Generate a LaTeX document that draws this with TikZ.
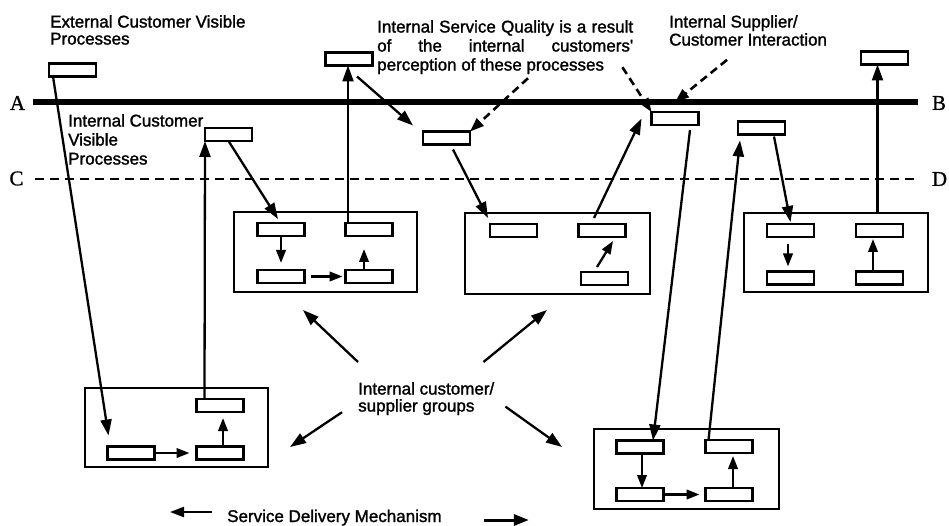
\documentclass[tikz,border=0pt]{standalone}
\usepackage{fontspec}
\setmainfont{Liberation Sans}
\newfontfamily\lblfont{Liberation Sans}[FakeBold=1.5]
\newfontfamily\abfont{Liberation Serif}[FakeBold=1]
\usetikzlibrary{arrows.meta}
\tikzset{
  sbox/.style={draw, fill=white, line width=2.3pt, minimum width=47pt, minimum height=13pt, inner sep=0pt, outer sep=0pt},
  gbox/.style={draw, line width=2.4pt, inner sep=0pt, outer sep=0pt},
  conn/.style={line width=2.3pt, -{Triangle[length=16pt,width=11pt]}},
  smallarr/.style={line width=2.3pt, -{Triangle[length=13pt,width=9.5pt]}},
  callout/.style={line width=2.6pt, dash pattern=on 8pt off 5pt, -{Triangle[length=14pt,width=10pt]}},
  lbl/.style={anchor=north west, inner sep=0pt, align=left},
  ablbl/.style={font=\abfont\fontsize{21}{21}\selectfont, inner sep=0pt}
}
\begin{document}
\begin{tikzpicture}[x=1pt,y=-1pt]
\useasboundingbox (0,0) rectangle (949,526);

% horizontal lines
\coordinate (a1) at (33,102); \coordinate (b1) at (918,102);
\coordinate (c1) at (35,179); \coordinate (d1) at (918,179);
\draw[line width=5.5pt] (a1) -- (b1);
\draw[line width=2.8pt, dash pattern=on 9pt off 6pt] (c1) -- (d1);
\node[ablbl] (lA) at (17.5,103) {A};
\node[ablbl] (lB) at (939,103) {B};
\node[ablbl] (lC) at (16.5,178.5) {C};
\node[ablbl] (lD) at (939.5,179) {D};

% labels
\node[lbl, font=\lblfont\fontsize{17}{17}\selectfont] (ext) at (50,15) {External Customer Visible\\Processes};
\node[lbl, font=\lblfont\fontsize{17}{19}\selectfont] (icv) at (68,114) {Internal Customer\\Visible\\Processes};
\node[lbl, font=\lblfont\fontsize{17}{19}\selectfont] (isq) at (377,20)
  {\makebox[256pt][s]{Internal Service Quality is a result}\\\makebox[256pt][s]{of the internal customers'}\\perception of these processes};
\node[lbl, font=\lblfont\fontsize{17}{18}\selectfont] (isc) at (669,15) {Internal Supplier/\\Customer Interaction};
\node[lbl, font=\lblfont\fontsize{17}{17}\selectfont] (cl) at (358,382) {Internal customer/\\supplier groups};
\node[anchor=base west, inner sep=0pt, font=\lblfont\fontsize{17}{17}\selectfont] (sdm) at (227,522) {Service Delivery Mechanism};

% single boxes
\node[sbox] (e1) at (72.5,70) {};
\node[sbox] (t1) at (349,59) {};
\node[sbox] (i1) at (228.5,134.5) {};
\node[sbox] (m1) at (446.5,138) {};
\node[sbox] (s1) at (675,118.5) {};
\node[sbox] (r1) at (761.5,128) {};
\node[sbox] (tr) at (884.5,58) {};

% group 1
\node[gbox, minimum width=183pt, minimum height=80pt] (G1) at (325.5,252) {};
\node[sbox] (g1a) at (281,229.5) {};
\node[sbox] (g1b) at (369,229.5) {};
\node[sbox] (g1c) at (281,276.5) {};
\node[sbox] (g1d) at (369,276.5) {};
% group 2
\node[gbox, minimum width=185pt, minimum height=81pt] (G2) at (557.5,253.5) {};
\node[sbox] (g2a) at (513.5,230.5) {};
\node[sbox] (g2b) at (602,230.5) {};
\node[sbox] (g2c) at (604.5,278.5) {};
% group 3
\node[gbox, minimum width=184pt, minimum height=79pt] (G3) at (836,252.5) {};
\node[sbox] (g3a) at (790.5,230.5) {};
\node[sbox] (g3b) at (879.5,230.5) {};
\node[sbox] (g3c) at (790.5,278) {};
\node[sbox] (g3d) at (879.5,278) {};
% group 4
\node[gbox, minimum width=183pt, minimum height=79pt] (G4) at (176.5,427.5) {};
\node[sbox] (g4b) at (220,405.5) {};
\node[sbox] (g4c) at (131,453) {};
\node[sbox] (g4d) at (220,453) {};
% group 5
\node[gbox, minimum width=185pt, minimum height=80pt] (G5) at (686.5,469) {};
\node[sbox] (g5a) at (640,447) {};
\node[sbox] (g5b) at (729,446.5) {};
\node[sbox] (g5c) at (640,494.5) {};
\node[sbox] (g5d) at (729,494.5) {};

% long connectors
\draw[conn] ([xshift=4pt]e1.south west) -- ([xshift=1pt,yshift=11pt]g4c.north west);
\draw[conn] ([xshift=8pt]g4b.north west) -- (i1.south west);
\draw[conn] (i1.south) -- ([xshift=-3pt,yshift=4pt]g1a.north);
\draw[conn] ([xshift=-21pt]g1b.north) -- ([xshift=-1pt]t1.south);
\draw[conn] ([xshift=8pt,yshift=-11pt]t1.south) -- ([xshift=-10pt,yshift=6pt]m1.north west);
\draw[conn] ([xshift=6.5pt,yshift=-5pt]m1.south) -- ([xshift=-2pt,yshift=6pt]g2a.north west);
\draw[conn] ([xshift=-8pt,yshift=6pt]g2b.north) -- ([xshift=-10pt]s1.west);
\draw[conn] ([xshift=15pt,yshift=-5pt]s1.south) -- ([xshift=13pt]g5a.north);
\draw[conn] ([xshift=3pt]g5b.north west) -- ([xshift=2pt,yshift=-6pt]r1.south west);
\draw[conn] ([xshift=12.5pt,yshift=-2pt]r1.south) -- ([yshift=2pt]g3a.north);
\coordinate (k) at ([xshift=-7pt]tr.south);
\draw[conn] (k |- G3.north) -- (k);

% inside groups
\draw[smallarr] (g1a.south) -- ([yshift=7pt]g1c.north);
\draw[smallarr] ([xshift=6pt]g1c.east) -- ([xshift=-3pt]g1d.west);
\draw[smallarr] ([xshift=-5pt]g1d.north) -- ([xshift=-5pt,yshift=-13pt]g1b.south);
\draw[smallarr] ([xshift=16pt,yshift=5pt]g2c.north west) -- ([xshift=11pt,yshift=-4pt]g2b.south);
\draw[smallarr] ([xshift=-2.5pt,yshift=-7pt]g3a.south) -- ([xshift=-2.5pt,yshift=5pt]g3c.north);
\draw[smallarr] ([xshift=-6.5pt]g3d.north) -- ([xshift=-6.5pt,yshift=-2pt]g3b.south);
\draw[smallarr] (g4c.east) -- ([xshift=-7pt]g4d.west);
\draw[smallarr] ([xshift=3pt]g4d.north) -- ([xshift=3pt,yshift=-6pt]g4b.south);
\draw[smallarr] ([xshift=2pt]g5a.south) -- ([xshift=2pt]g5c.north);
\draw[smallarr] (g5c.east) -- ([xshift=-6pt]g5d.west);
\draw[smallarr] ([xshift=4pt]g5d.north) -- ([xshift=4pt,yshift=-3pt]g5b.south);

% arrows from the group label
\draw[conn] ([yshift=20pt]cl.north west) -- ([xshift=-22.5pt,yshift=-18pt]G1.south);
\draw[conn] ([xshift=-11pt,yshift=20pt]cl.north east) -- ([xshift=-10.5pt,yshift=-16pt]G2.south);
\draw[conn] ([xshift=-16pt,yshift=3pt]cl.south west) -- ([xshift=22pt,yshift=-19.5pt]G4.east);
\draw[conn] ([xshift=11pt,yshift=-8pt]cl.east) -- ([xshift=-32pt,yshift=22pt]G5.west);

% service delivery arrows
\draw[line width=2.2pt, -{Triangle[length=14pt,width=10pt]}] ([xshift=-15pt,yshift=10pt]sdm.base west) -- ([xshift=-57pt,yshift=10pt]sdm.base west);
\draw[line width=3pt, -{Triangle[length=15pt,width=11pt]}] ([xshift=42pt,yshift=2pt]sdm.base east) -- ([xshift=87pt,yshift=2pt]sdm.base east);

% dashed callouts
\draw[callout] ([xshift=151pt,yshift=-4pt]isq.south west) -- (m1.north east);
\draw[callout] ([xshift=-11pt,yshift=7pt]isq.south east) -- (s1.north west);
\draw[callout] ([xshift=58pt,yshift=-14pt]isc.south west) -- ([yshift=10pt]s1.north);
\end{tikzpicture}
\end{document}
